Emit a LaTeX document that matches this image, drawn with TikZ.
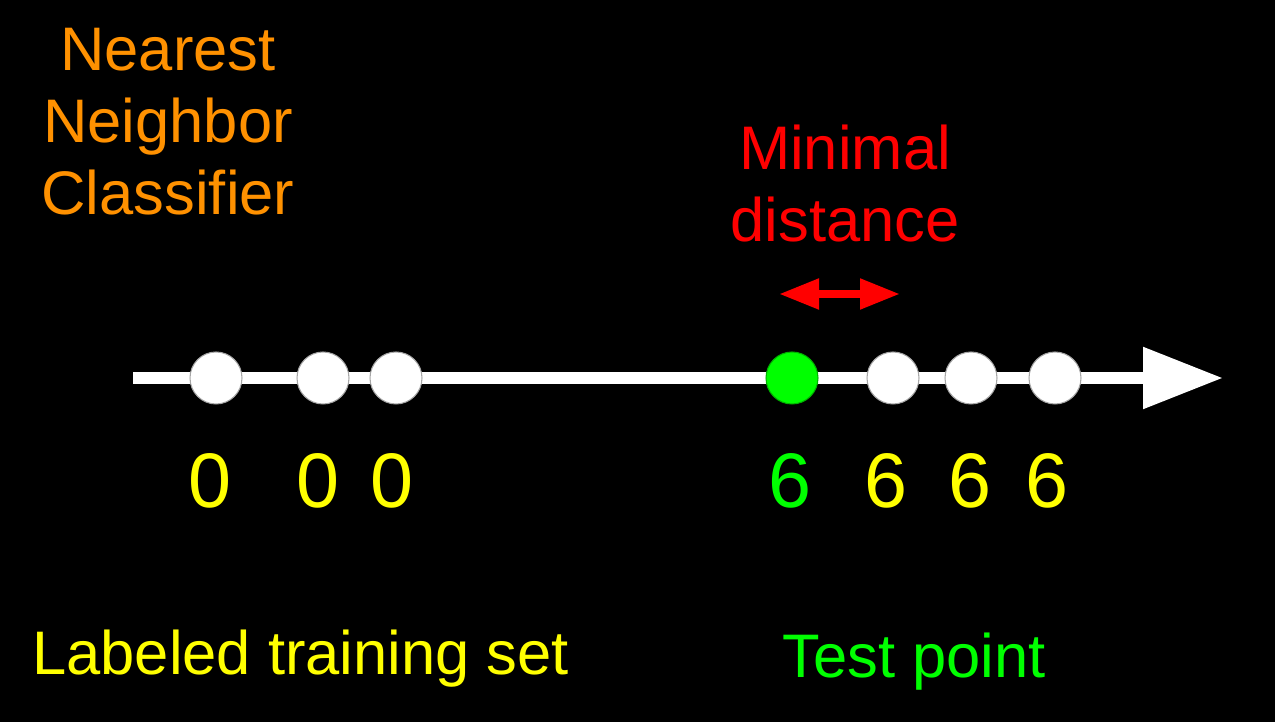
\documentclass[tikz,border=0pt]{standalone}
\usepackage{fontspec}
\setmainfont{Liberation Sans}
\usepackage{xcolor}
\usetikzlibrary{positioning, arrows.meta}

\definecolor{nnorange}{RGB}{255,145,0}
\definecolor{nnyellow}{RGB}{255,255,0}
\definecolor{nngreen}{RGB}{0,255,0}
\definecolor{nnred}{RGB}{255,0,0}

\begin{document}
\begin{tikzpicture}[
    x=0.02cm, y=-0.02cm,
    sample/.style={circle, draw=gray!70, fill=white, minimum size=1.04cm, inner sep=0pt, line width=0.6pt},
    label/.style={anchor=base, inner sep=0pt, font=\fontsize{44}{50}\selectfont},
    caption/.style={inner sep=0pt, align=center, font=\fontsize{35}{41}\selectfont},
    axis/.style={-{Triangle[length=1.6cm, width=1.18cm]}, line width=0.24cm, white},
    gap/.style={{Triangle[length=0.8cm, width=0.58cm]}-{Triangle[length=0.8cm, width=0.58cm]}, line width=0.16cm, nnred}
]

    % Background
    \fill[black] (0,0) rectangle (1275,722);
    \useasboundingbox (0,0) rectangle (1275,722);

    % Titles
    \node[caption, anchor=base, text=nnorange] (title) at (168,215) {Nearest\\Neighbor\\Classifier};
    \node[caption, anchor=base, text=nnred] (mindist) at (845,242) {Minimal\\distance};

    % Axis
    \coordinate (axisstart) at (133,378);
    \coordinate (axisend) at (1223,378);
    \draw[axis] (axisstart) -- (axisend);

    % Training samples and test point
    \node[sample] (s1) at (216,378) {};
    \node[sample] (s2) at (323,378) {};
    \node[sample] (s3) at (396,378) {};
    \node[sample, fill=nngreen, draw=nngreen!70!black] (test) at (792,378) {};
    \node[sample] (s4) at (893,378) {};
    \node[sample] (s5) at (971,378) {};
    \node[sample] (s6) at (1055,378) {};

    % Minimal distance arrow
    \coordinate (gapleft) at (779,294);
    \coordinate (gapright) at (900,294);
    \draw[gap] (gapleft) -- (gapright);

    % Class labels
    \node[label, text=nnyellow] (l1) at (210,508) {0};
    \node[label, text=nnyellow] (l2) at (318,508) {0};
    \node[label, text=nnyellow] (l3) at (392,508) {0};
    \node[label, text=nngreen] (lt) at (790,508) {6};
    \node[label, text=nnyellow] (l4) at (886,508) {6};
    \node[label, text=nnyellow] (l5) at (970,508) {6};
    \node[label, text=nnyellow] (l6) at (1047,508) {6};

    % Bottom captions
    \node[caption, anchor=base west, text=nnyellow] (trainset) at (32,675) {Labeled training set};
    \node[caption, anchor=base west, text=nngreen] (testpt) at (782,678) {Test point};

\end{tikzpicture}
\end{document}
